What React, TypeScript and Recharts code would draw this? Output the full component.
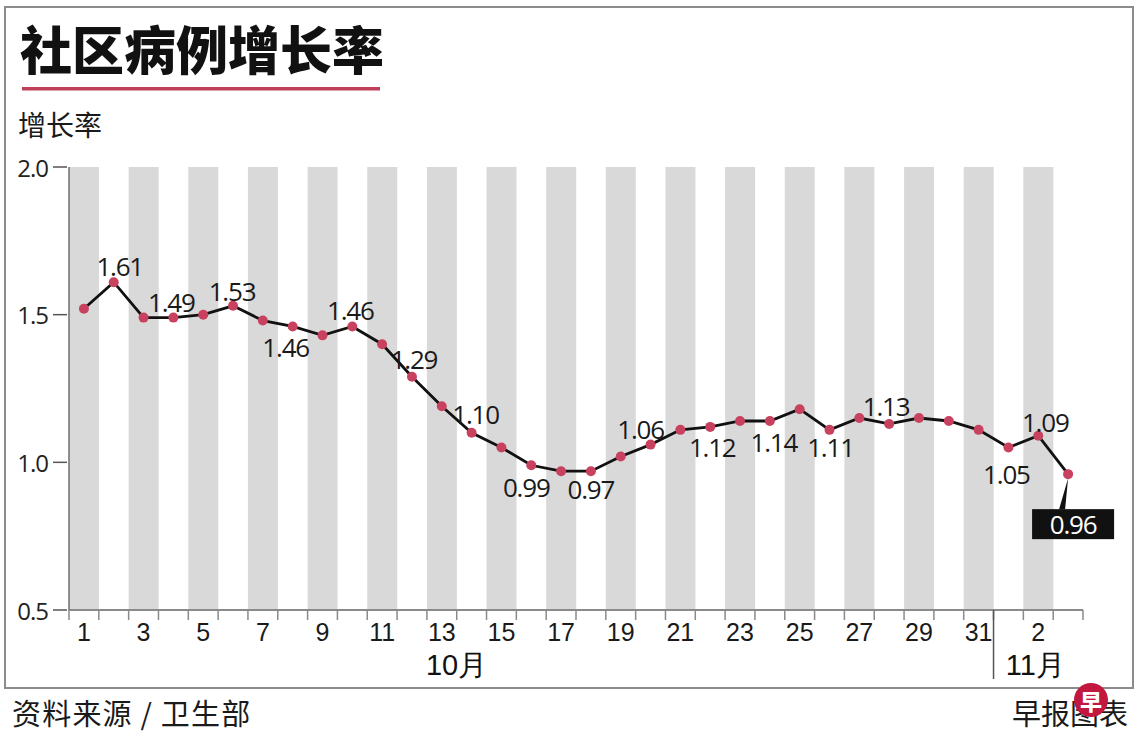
import React from "react";
import { ComposedChart, Bar, Line, XAxis, YAxis, LabelList } from "recharts";

// Oct 1 - Nov 3
const months = [
  "10月", "10月", "10月", "10月", "10月", "10月", "10月", "10月", "10月", "10月",
  "10月", "10月", "10月", "10月", "10月", "10月", "10月", "10月", "10月", "10月",
  "10月", "10月", "10月", "10月", "10月", "10月", "10月", "10月", "10月", "10月",
  "10月", "11月", "11月", "11月",
];
const days = [
  1, 2, 3, 4, 5, 6, 7, 8, 9, 10, 11, 12, 13, 14, 15, 16, 17, 18, 19, 20,
  21, 22, 23, 24, 25, 26, 27, 28, 29, 30, 31, 1, 2, 3,
];
const growth = [
  1.52, 1.61, 1.49, 1.49, 1.5, 1.53, 1.48, 1.46, 1.43, 1.46, 1.4, 1.29, 1.19,
  1.1, 1.05, 0.99, 0.97, 0.97, 1.02, 1.06, 1.11, 1.12, 1.14, 1.14, 1.18, 1.11,
  1.15, 1.13, 1.15, 1.14, 1.11, 1.05, 1.09, 0.96,
];
const tickLabels = [
  "1", "", "3", "", "5", "", "7", "", "9", "", "11", "", "13", "", "15", "",
  "17", "", "19", "", "21", "", "23", "", "25", "", "27", "", "29", "", "31",
  "", "2", "",
];
const yTicks = [0.5, 1.0, 1.5, 2.0];
const yMax = 2.0;

// which points carry a value label, and where it sits relative to the dot
const labelPos: Record<number, { dx: number; dy: number }> = {
  1: { dx: 6, dy: -16 },
  3: { dx: -2, dy: -16 },
  5: { dx: -1, dy: -15 },
  7: { dx: -7, dy: 21 },
  9: { dx: -2, dy: -16 },
  11: { dx: 2, dy: -18 },
  13: { dx: 4, dy: -19 },
  15: { dx: -5, dy: 22 },
  17: { dx: 0, dy: 18 },
  19: { dx: -10, dy: -16 },
  21: { dx: 2, dy: 20 },
  23: { dx: 4, dy: 21 },
  25: { dx: 1, dy: 17 },
  27: { dx: -3, dy: -18 },
  31: { dx: -2, dy: 26 },
  32: { dx: 7, dy: -14 },
};
const highlightIndex = 33;

const rows = days.map((d, i) => ({
  key: `${months[i]}-${d}`,
  rate: growth[i],
  band: tickLabels[i] ? yMax : null,
}));

const PLOT_LEFT = 69;
const PLOT_RIGHT = 1083;
const SLOT = (PLOT_RIGHT - PLOT_LEFT) / rows.length;
const NOV_START = months.indexOf("11月");

const numFont = "'Open Sans', 'Noto Sans', sans-serif";
const tickFont = "'Liberation Sans', Arial, sans-serif";
const cjkFont = "'Noto Sans CJK SC', sans-serif";

function DayTick(props: any) {
  const { x, y, payload } = props;
  const i = payload.index;
  const half = SLOT / 2;
  const grey = "#8a8a8a";
  return (
    <g>
      <line x1={x - half} x2={x - half} y1={y} y2={y + 10} stroke={grey} strokeWidth={1.5} />
      {i === rows.length - 1 && (
        <line x1={x + half} x2={x + half} y1={y} y2={y + 10} stroke={grey} strokeWidth={1.5} />
      )}
      {i === NOV_START && (
        <line x1={x - half} x2={x - half} y1={y} y2={y + 69} stroke="#555" strokeWidth={1.5} />
      )}
      {tickLabels[i] && (
        <text
          x={x}
          y={y + 22}
          textAnchor="middle"
          dominantBaseline="central"
          fontFamily={tickFont}
          fontSize={25}
          fill="#1a1a1a"
        >
          {tickLabels[i]}
        </text>
      )}
      {i === 13 && (
        <text x={x - 15} y={y + 55} textAnchor="middle" dominantBaseline="central" fontFamily={tickFont} fontSize={29} fill="#111">
          {months[0]}
        </text>
      )}
      {i === 32 && (
        <text x={x - 3} y={y + 55} textAnchor="middle" dominantBaseline="central" fontFamily={tickFont} fontSize={29} fill="#111">
          {months[NOV_START]}
        </text>
      )}
    </g>
  );
}

function RateTick(props: any) {
  const { x, y, payload } = props;
  return (
    <g>
      <line x1={x - 16} x2={x - 2} y1={y} y2={y} stroke="#555" strokeWidth={1.5} />
      <text
        x={x - 21}
        y={y}
        textAnchor="end"
        dominantBaseline="central"
        fontFamily={numFont}
        fontSize={24}
        letterSpacing={-1}
        fill="#222"
      >
        {Number(payload.value).toFixed(1)}
      </text>
    </g>
  );
}

function ValueLabel(props: any) {
  const { x, y, index, value } = props;
  const text = Number(value).toFixed(2);
  if (index === highlightIndex) {
    const bx = x + 5;
    const by = y + 50;
    return (
      <g>
        <polygon points={`${x},${y + 4} ${x - 9},${by - 15} ${x - 3},${by - 15}`} fill="#111" />
        <rect x={bx - 41} y={by - 15} width={82} height={30} fill="#111" />
        <text x={bx} y={by} textAnchor="middle" dominantBaseline="central" fontFamily={numFont} fontSize={26} letterSpacing={-1.2} fill="#fff">
          {text}
        </text>
      </g>
    );
  }
  const pos = labelPos[index];
  if (!pos) return null;
  return (
    <text
      x={x + pos.dx}
      y={y + pos.dy}
      textAnchor="middle"
      dominantBaseline="central"
      fontFamily={numFont}
      fontSize={26}
      letterSpacing={-1.2}
      fill="#1a1a1a"
    >
      {text}
    </text>
  );
}

export default function App() {
  return (
    <div style={{ position: "absolute", left: 0, top: 0, width: 1140, height: 745, background: "#fff" }}>
      <svg width={1140} height={745} style={{ position: "absolute", left: 0, top: 0 }}>
        <rect x={5} y={7} width={1128} height={681} fill="none" stroke="#8c8c8c" strokeWidth={2} />
      </svg>

      <div style={{ position: "absolute", left: 0, top: 0 }}>
        <ComposedChart
          width={1140}
          height={745}
          data={rows}
          margin={{ top: 167, right: 1140 - PLOT_RIGHT, bottom: 75, left: PLOT_LEFT - 60 }}
          barCategoryGap={0}
          barGap={0}
        >
          <Bar dataKey="band" fill="#d9d9d9" isAnimationActive={false} />
          <XAxis
            dataKey="key"
            interval={0}
            height={60}
            tick={<DayTick />}
            tickLine={false}
            tickSize={0}
            tickMargin={0}
            axisLine={{ stroke: "#8a8a8a", strokeWidth: 2 }}
          />
          <YAxis
            domain={[0.5, yMax]}
            ticks={yTicks}
            width={60}
            tick={<RateTick />}
            tickLine={false}
            tickSize={0}
            tickMargin={0}
            axisLine={{ stroke: "#6e6e6e", strokeWidth: 1.5 }}
          />
          <Line
            dataKey="rate"
            stroke="#111"
            strokeWidth={2.8}
            dot={{ r: 5, fill: "#c8425f", stroke: "none" }}
            isAnimationActive={false}
          >
            <LabelList dataKey="rate" content={<ValueLabel />} />
          </Line>
        </ComposedChart>
      </div>

      <svg width={1140} height={745} style={{ position: "absolute", left: 0, top: 0, pointerEvents: "none" }}>
        <text x={20} y={70} fontFamily={cjkFont} fontSize={52} fontWeight={900} fill="#111">
          社区病例增长率
        </text>
        <rect x={22} y={87} width={358} height={3.5} fill="#bf3f5a" />
        <text x={18} y={136} fontFamily={cjkFont} fontSize={28} fill="#1a1a1a">
          增长率
        </text>
        <text x={12} y={725} fontFamily={cjkFont} fontSize={29} letterSpacing={1.2} fill="#1a1a1a">
          资料来源 / 卫生部
        </text>
        <text x={1128} y={725} textAnchor="end" fontFamily={cjkFont} fontSize={29} fill="#1a1a1a">
          早报图表
        </text>
        <circle cx={1091} cy={700} r={17} fill="#c2183f" />
        <text x={1091} y={700} textAnchor="middle" dominantBaseline="central" fontFamily={cjkFont} fontSize={22} fontWeight={900} fill="#fff">
          早
        </text>
      </svg>
    </div>
  );
}
